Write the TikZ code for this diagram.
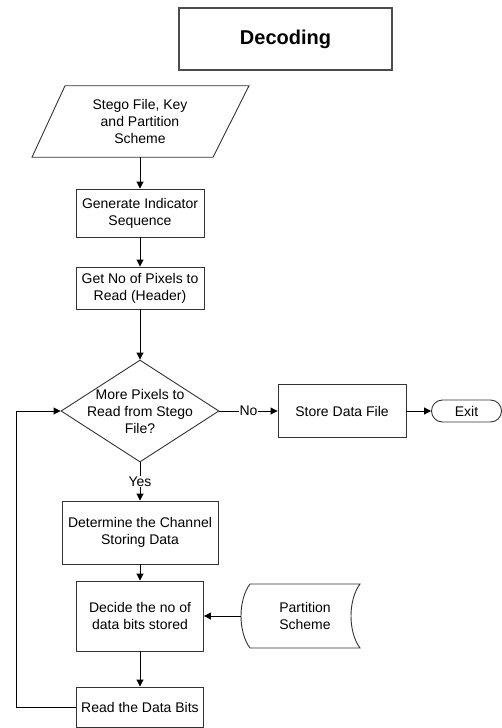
\documentclass[tikz,border=0pt]{standalone}
\usepackage{fontspec}
\setmainfont{Liberation Sans}
\usetikzlibrary{arrows.meta,positioning,shapes.geometric,shapes.misc}
\tikzset{box/.style={draw=black!80, line width=0.9pt, rectangle, align=center, inner sep=2pt},
txt/.style={align=center, inner sep=0pt},
%diamond is drawn empty, its text goes on top
decision/.style={draw=black!80, line width=0.9pt, diamond, inner sep=0pt, minimum width=158pt, minimum height=102pt},
term/.style={draw=black!80, line width=0.9pt, rounded rectangle, minimum width=70pt, minimum height=22pt, inner sep=0pt},
arr/.style={line width=0.9pt, -{Triangle[length=7pt,width=7pt]}},
yesno/.style={fill=white, inner sep=1pt}}

\begin{document}
\begin{tikzpicture}[x=1pt, y=-1pt, font=\fontsize{14}{17}\selectfont]
\useasboundingbox (0,0) rectangle (502,728);

\node[box, line width=1.8pt, draw=black!70, minimum width=213pt, minimum height=62pt, font=\fontsize{20}{24}\selectfont\bfseries] (title) at (285.5,39) {Decoding};

\node[txt, minimum height=71.5pt] (in) at (140,121.5) {Stego File, Key\\and Partition\\Scheme};
\draw[line width=0.9pt, draw=black!80] (32,157.25) -- (213,157.25) -- (249,85.75) -- (65,85.75) -- cycle;

\node[box, minimum width=128pt, minimum height=48pt] (gen) at (140,213) {Generate Indicator\\Sequence};
\node[box, minimum width=128pt, minimum height=42pt] (get) at (140,288) {Get No of Pixels to\\Read (Header)};

\node[decision] (dec) at (140,411) {};
\node[txt] at (dec) {More Pixels to\\Read from Stego\\File?};

\node[box, minimum width=128pt, minimum height=53pt] (store) at (342,411) {Store Data File};
\node[term] (exit) at (466.5,411) {Exit};

\node[box, minimum width=156pt, minimum height=63pt] (det) at (140,532.5) {Determine the Channel\\Storing Data};
\node[box, minimum width=127pt, minimum height=70pt] (decide) at (140,616) {Decide the no of\\data bits stored};
\node[box, minimum width=127pt, minimum height=40pt] (read) at (140,707) {Read the Data Bits};

\node[txt, minimum width=128pt] (part) at (305,616) {Partition\\Scheme};
\draw[line width=0.9pt, draw=black!80] (250,584) -- (360,584) .. controls (348,600) and (348,632) .. (360,648)
  -- (250,648) .. controls (238,632) and (238,600) .. (250,584) -- cycle;

\draw[arr] (in) -- (gen);
\draw[arr] (gen) -- (get);
\draw[arr] (get) -- (dec);
\draw[arr] (dec) -- node[yesno] {No} (store);
\draw[arr] (store) -- (exit);
\draw[arr] (dec) -- node[yesno] {Yes} (det);
\draw[arr] (det) -- (decide);
\draw[arr] (part.west) -- (decide.east);
\draw[arr] (decide) -- (read);
\draw[arr] (read.west) -- ++(-60,0) |- (dec.west);

\end{tikzpicture}
\end{document}
